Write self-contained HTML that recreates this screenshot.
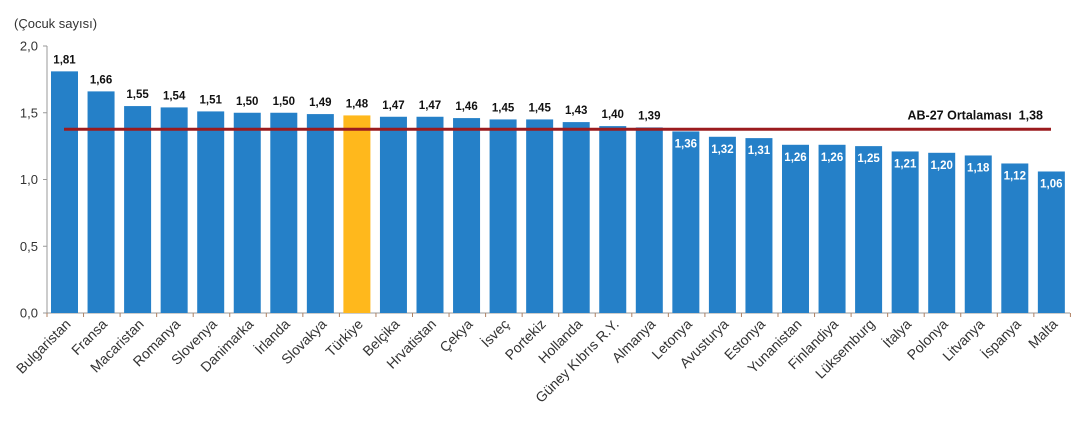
<!DOCTYPE html>
<html><head><meta charset="utf-8"><style>
html,body{margin:0;padding:0;background:#fff;width:1080px;height:423px;overflow:hidden}
svg{display:block;font-family:"Liberation Sans",Arial,sans-serif}
</style></head><body>
<svg id="c" width="1080" height="423" viewBox="0 0 1080 423" xmlns="http://www.w3.org/2000/svg">
<text x="14" y="28" font-size="13" fill="#333">(Çocuk sayısı)</text>
</svg>
<script>
var names=["Bulgaristan","Fransa","Macaristan","Romanya","Slovenya","Danimarka","İrlanda","Slovakya","Türkiye","Belçika","Hrvatistan","Çekya","İsveç","Portekiz","Hollanda","Güney Kıbrıs R.Y.","Almanya","Letonya","Avusturya","Estonya","Yunanistan","Finlandiya","Lüksemburg","İtalya","Polonya","Litvanya","İspanya","Malta"];
var vals=[1.81,1.66,1.55,1.54,1.51,1.50,1.50,1.49,1.48,1.47,1.47,1.46,1.45,1.45,1.43,1.40,1.39,1.36,1.32,1.31,1.26,1.26,1.25,1.21,1.20,1.18,1.12,1.06];
var y0=313,k=133.5,s='';
function Y(v){return y0-v*k;}
s+='<line x1="47" y1="46" x2="47" y2="313" stroke="#999" stroke-width="1"/>';
s+='<line x1="47" y1="313" x2="1070" y2="313" stroke="#999" stroke-width="1"/>';
[0,0.5,1,1.5,2].forEach(function(v){var y=Y(v);
s+='<line x1="43" y1="'+y+'" x2="47" y2="'+y+'" stroke="#999"/>';
s+='<text x="38" y="'+(y+4.5)+'" font-size="13" fill="#333" text-anchor="end">'+v.toFixed(1).replace('.',',')+'</text>';});
for(var i=0;i<=28;i++){var x=47+36.55*i;s+='<line x1="'+x+'" y1="313" x2="'+x+'" y2="317" stroke="#b08060"/>';}
for(var i=0;i<28;i++){
 var c=64.5+36.55*i,v=vals[i],y=Y(v),col=i==8?'#ffb81c':'#2580c8';
 s+='<rect x="'+(c-13.5)+'" y="'+y+'" width="27" height="'+(y0-y)+'" fill="'+col+'"/>';
 var lab=v.toFixed(2).replace('.',',');
 if(v>=1.39) s+='<text x="'+c+'" y="'+(y-8)+'" font-size="11.5" font-weight="bold" fill="#111" text-anchor="middle">'+lab+'</text>';
 else s+='<text x="'+c+'" y="'+(y+16)+'" font-size="11.5" font-weight="bold" fill="#fff" text-anchor="middle">'+lab+'</text>';
 s+='<text transform="translate('+(c+7)+',325) rotate(-45)" font-size="14" fill="#333" text-anchor="end">'+names[i]+'</text>';
}
var ya=Y(1.38)+0.5;
s+='<line x1="64" y1="'+ya+'" x2="1051" y2="'+ya+'" stroke="#9b1b1e" stroke-width="3"/>';
s+='<text x="1043" y="'+(ya-10)+'" font-size="12.5" font-weight="bold" fill="#111" text-anchor="end" xml:space="preserve">AB-27 Ortalaması  1,38</text>';
document.getElementById('c').insertAdjacentHTML('beforeend',s);
</script>
</body></html>
